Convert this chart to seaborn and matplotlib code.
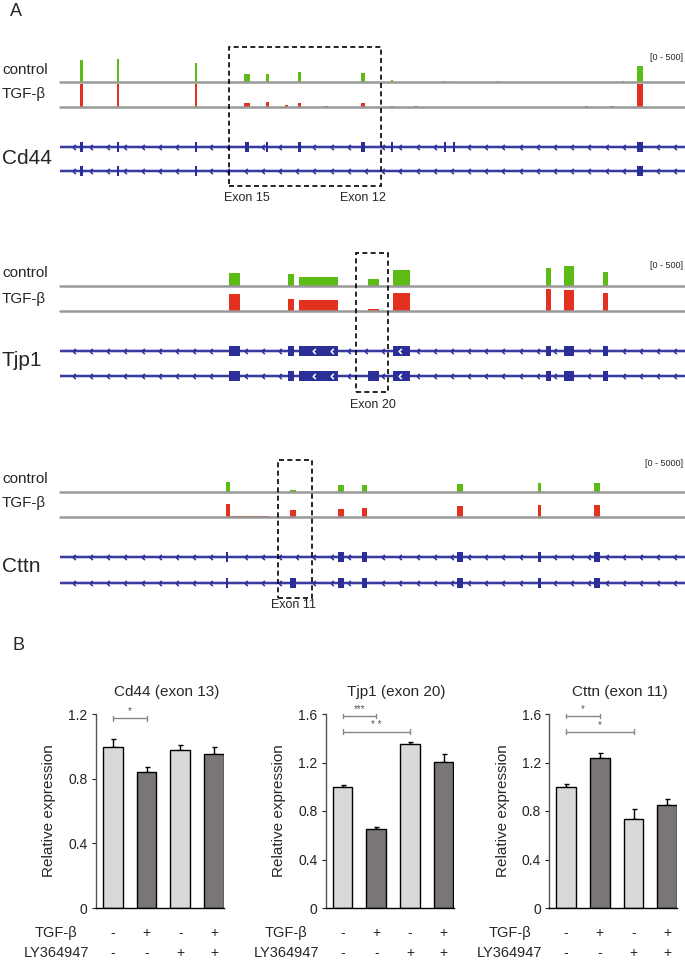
import numpy as np
import pandas as pd
import matplotlib
matplotlib.use("Agg")
import matplotlib.pyplot as plt
import seaborn as sns
from matplotlib.path import Path
from matplotlib.patches import Rectangle
from matplotlib.transforms import blended_transform_factory

# ------------------------------------------------------------------
# DATA  - panel A (genomic coordinate of each locus on a 0-1000 scale)
# ------------------------------------------------------------------
# Cd44
cd44_ctrl_start = [32.5, 91, 216, 295, 330, 381, 482, 529, 614, 628, 699, 899, 923]
cd44_ctrl_end = [36, 94.5, 219.5, 304, 335, 386, 488, 533, 617, 631, 702, 902, 932]
cd44_ctrl_val = [470, 500, 420, 170, 180, 220, 195, 40, 30, 30, 25, 25, 340]
cd44_tgf_start = [32.5, 91, 216, 295, 330, 360, 381, 423, 482, 529, 567, 840, 880, 923]
cd44_tgf_end = [36, 94.5, 219.5, 304, 335, 364, 386, 429, 488, 533, 572, 844, 886, 932]
cd44_tgf_val = [520, 520, 520, 80, 115, 35, 95, 30, 80, 25, 30, 25, 30, 520]
cd44_tx1_start = [32.5, 91, 216, 296, 330, 381.5, 482, 529.5, 614.5, 628.5, 923]
cd44_tx1_end = [36, 94.5, 219.5, 302, 333.5, 385, 488, 533, 618, 632, 932]
cd44_tx2_start = [32.5, 91, 216, 923]
cd44_tx2_end = [36, 94.5, 219.5, 932]
cd44_exon_labels = ["Exon 15", "Exon 12"]
cd44_exon_label_pos = [299, 485]
cd44_box = [270, 514]

# Tjp1
tjp1_ctrl_start = [271, 365, 382, 492, 533, 777, 806, 868]
tjp1_ctrl_end = [288, 374, 445, 510, 560, 786, 822, 876]
tjp1_ctrl_val = [290, 260, 200, 160, 350, 385, 430, 300]
tjp1_tgf_start = [271, 365, 382, 492, 533, 777, 806, 868]
tjp1_tgf_end = [288, 374, 445, 510, 560, 786, 822, 876]
tjp1_tgf_val = [360, 270, 240, 35, 390, 470, 450, 385]
tjp1_tx1_start = [271, 365, 382, 533, 777, 806, 868]
tjp1_tx1_end = [288, 374, 445, 560, 786, 822, 876]
tjp1_tx2_start = [271, 365, 382, 492, 533, 777, 806, 868]
tjp1_tx2_end = [288, 374, 445, 510, 560, 786, 822, 876]
tjp1_exon_labels = ["Exon 20"]
tjp1_exon_label_pos = [501]
tjp1_box = [474, 525]

# Cttn
cttn_ctrl_start = [265, 368, 445, 483, 635, 765, 854]
cttn_ctrl_end = [272, 378, 454, 491, 645, 770, 864]
cttn_ctrl_val = [2170, 520, 1460, 1460, 1830, 1960, 2040]
cttn_tgf_start = [265, 272, 368, 445, 483, 635, 765, 854]
cttn_tgf_end = [272, 335, 378, 454, 491, 645, 770, 864]
cttn_tgf_val = [2910, 200, 1460, 1830, 1960, 2390, 2540, 2540]
cttn_tx1_start = [265.5, 445, 483, 635, 765, 854]
cttn_tx1_end = [269.5, 454, 491, 645, 770, 864]
cttn_tx2_start = [265.5, 368, 445, 483, 635, 765, 854]
cttn_tx2_end = [269.5, 378, 454, 491, 645, 770, 864]
cttn_exon_labels = ["Exon 11"]
cttn_exon_label_pos = [373]
cttn_box = [348, 403]

track_names = ["control", "TGF-β"]

# ------------------------------------------------------------------
# DATA  - panel B
# ------------------------------------------------------------------
groups = ["ctl", "TGF", "LY", "TGF+LY"]
tgf_signs = ["-", "+", "-", "+"]
ly_signs = ["-", "-", "+", "+"]
row_labels = ["TGF-β", "LY364947"]

cd44_vals = [0.995, 0.84, 0.975, 0.95]
cd44_err = [0.053, 0.03, 0.035, 0.045]
tjp1_vals = [1.0, 0.655, 1.35, 1.207]
tjp1_err = [0.015, 0.013, 0.022, 0.06]
cttn_vals = [0.996, 1.24, 0.733, 0.851]
cttn_err = [0.025, 0.04, 0.085, 0.046]

cd44_sig = [(0, 1, 1.173, "*")]
tjp1_sig = [(0, 1, 1.584, "***"), (0, 2, 1.455, "* *")]
cttn_sig = [(0, 1, 1.584, "*"), (0, 2, 1.455, "*")]

# ------------------------------------------------------------------
sns.set_style("ticks")
plt.rcParams["font.family"] = ["Liberation Sans", "DejaVu Sans"]

W, H = 685, 969
fig = plt.figure(figsize=(W / 100, H / 100), dpi=100)


def box(x0, y0, x1, y1):
    return [x0 / W, 1 - y1 / H, (x1 - x0) / W, (y1 - y0) / H]


def fy(y):
    return 1 - y / H


GREEN = "#5cbb14"
RED = "#e2321f"
NAVY = "#2c2e98"
TRACK_GREY = "#999999"
LIGHT = "#d9d9db"
DARK = "#7a7579"

X0, X1 = 60, 685
TRACK_H = 23

loci = [
    dict(name="Cd44", scale=500, scale_label="[0 - 500]", scale_y=58,
         ctrl_base=82, tgf_base=107, tx_y=(147, 171), name_y=158,
         lab_y=(70, 94), box_y=(47, 186), exon_lab_y=198,
         ctrl=(cd44_ctrl_start, cd44_ctrl_end, cd44_ctrl_val),
         tgf=(cd44_tgf_start, cd44_tgf_end, cd44_tgf_val),
         tx1=(cd44_tx1_start, cd44_tx1_end), tx2=(cd44_tx2_start, cd44_tx2_end),
         exl=cd44_exon_labels, exp=cd44_exon_label_pos, dbox=cd44_box),
    dict(name="Tjp1", scale=500, scale_label="[0 - 500]", scale_y=265,
         ctrl_base=286, tgf_base=311, tx_y=(351, 376), name_y=360,
         lab_y=(273, 299), box_y=(253, 392), exon_lab_y=405,
         ctrl=(tjp1_ctrl_start, tjp1_ctrl_end, tjp1_ctrl_val),
         tgf=(tjp1_tgf_start, tjp1_tgf_end, tjp1_tgf_val),
         tx1=(tjp1_tx1_start, tjp1_tx1_end), tx2=(tjp1_tx2_start, tjp1_tx2_end),
         exl=tjp1_exon_labels, exp=tjp1_exon_label_pos, dbox=tjp1_box),
    dict(name="Cttn", scale=5000, scale_label="[0 - 5000]", scale_y=463,
         ctrl_base=492, tgf_base=517, tx_y=(557, 583), name_y=567,
         lab_y=(479, 503), box_y=(460, 598), exon_lab_y=605,
         ctrl=(cttn_ctrl_start, cttn_ctrl_end, cttn_ctrl_val),
         tgf=(cttn_tgf_start, cttn_tgf_end, cttn_tgf_val),
         tx1=(cttn_tx1_start, cttn_tx1_end), tx2=(cttn_tx2_start, cttn_tx2_end),
         exl=cttn_exon_labels, exp=cttn_exon_label_pos, dbox=cttn_box),
]

chev = Path([(0.5, 1.0), (-0.5, 0.0), (0.5, -1.0)],
            [Path.MOVETO, Path.LINETO, Path.LINETO])


def clean(ax):
    ax.set_xlim(0, 1000)
    ax.set_xticks([])
    ax.set_yticks([])
    for s in ax.spines.values():
        s.set_visible(False)
    ax.patch.set_alpha(0)


def coverage(ax, data, color, scale):
    starts, ends, vals = data
    starts = np.asarray(starts, float)
    ends = np.asarray(ends, float)
    ax.bar(starts, vals, width=ends - starts, align="edge", color=color,
           linewidth=0)
    ax.set_ylim(0, scale)
    ax.axhline(0, color=TRACK_GREY, lw=1.8, clip_on=False, zorder=5)
    clean(ax)


def transcript(ax, y, tx, exon_h):
    starts, ends = tx
    ax.axhline(y, color="#8c8ed0", lw=2.6, zorder=0.5, alpha=0.6)
    ax.axhline(y, color=NAVY, lw=1.3, zorder=1)
    for s, e in zip(starts, ends):
        ax.add_patch(Rectangle((s, y - exon_h / 2), e - s, exon_h,
                               facecolor=NAVY, edgecolor="none", zorder=2))
    for p in np.arange(22, 1000, 27.5):
        hit = [(s, e) for s, e in zip(starts, ends) if s - 5 <= p <= e + 5]
        if hit:
            s, e = hit[0]
            if e - s > 20 and s + 5 < p < e - 5:
                ax.plot(p, y, marker=chev, ms=3.8, mfc="none", mec="white",
                        mew=1.1, zorder=3)
            continue
        ax.plot(p, y, marker=chev, ms=3.8, mfc="none", mec=NAVY, mew=1.1,
                zorder=3)


fig.text(10 / W, fy(12), "A", fontsize=13, ha="left", va="center")
fig.text(12 / W, fy(646), "B", fontsize=13, ha="left", va="center")

for L in loci:
    ax_c = fig.add_axes(box(X0, L["ctrl_base"] - TRACK_H, X1, L["ctrl_base"]))
    coverage(ax_c, L["ctrl"], GREEN, L["scale"])
    ax_t = fig.add_axes(box(X0, L["tgf_base"] - TRACK_H, X1, L["tgf_base"]))
    coverage(ax_t, L["tgf"], RED, L["scale"])

    y1, y2 = L["tx_y"]
    d = y2 - y1
    ax_g = fig.add_axes(box(X0, y1 - d / 2, X1, y2 + d / 2))
    ax_g.set_ylim(-0.5, 1.5)
    clean(ax_g)
    transcript(ax_g, 1, L["tx1"], 9.5 / d)
    transcript(ax_g, 0, L["tx2"], 9.5 / d)

    fig.text(2 / W, fy(L["lab_y"][0]), track_names[0], fontsize=11,
             ha="left", va="center")
    fig.text(2 / W, fy(L["lab_y"][1]), track_names[1], fontsize=11,
             ha="left", va="center")
    fig.text(2 / W, fy(L["name_y"]), L["name"], fontsize=15,
             ha="left", va="center")
    fig.text(683 / W, fy(L["scale_y"]), L["scale_label"], fontsize=6.5,
             ha="right", va="center")

    tr = blended_transform_factory(ax_g.transData, fig.transFigure)
    bx0, bx1 = L["dbox"]
    by0, by1 = L["box_y"]
    fig.add_artist(Rectangle((bx0, fy(by1)), bx1 - bx0, (by1 - by0) / H,
                             transform=tr, fill=False, edgecolor="black",
                             lw=1.2, ls=(0, (3, 2)), zorder=10))
    for lab, pos in zip(L["exl"], L["exp"]):
        fig.text(pos, fy(L["exon_lab_y"]), lab, transform=tr, fontsize=9,
                 ha="center", va="center")

# ------------------------------------------------------------------
# Panel B
# ------------------------------------------------------------------
charts = [
    dict(title="Cd44 (exon 13)", vals=cd44_vals, err=cd44_err, sig=cd44_sig,
         ymax=1.2, ticks=[0, 0.4, 0.8, 1.2], left=96),
    dict(title="Tjp1 (exon 20)", vals=tjp1_vals, err=tjp1_err, sig=tjp1_sig,
         ymax=1.6, ticks=[0, 0.4, 0.8, 1.2, 1.6], left=325.7),
    dict(title="Cttn (exon 11)", vals=cttn_vals, err=cttn_err, sig=cttn_sig,
         ymax=1.6, ticks=[0, 0.4, 0.8, 1.2, 1.6], left=549.3),
]

for C in charts:
    ax = fig.add_axes(box(C["left"], 714, C["left"] + 128, 908))
    df = pd.DataFrame({"group": groups, "value": C["vals"]})
    sns.barplot(data=df, x="group", y="value", hue="group",
                palette=[LIGHT, DARK, LIGHT, DARK], legend=False,
                width=0.58, saturation=1, edgecolor="black", linewidth=1.0,
                errorbar=None, ax=ax, zorder=2)
    xs = np.arange(len(groups))
    ax.errorbar(xs, C["vals"], yerr=[np.zeros(len(xs)), C["err"]], fmt="none",
                ecolor="black", elinewidth=1.0, capsize=1.8, capthick=1.0,
                zorder=1)
    ax.set_xlim(-0.5, 3.3)
    ax.set_ylim(0, C["ymax"])
    ax.set_yticks(C["ticks"])
    ax.set_yticklabels([("%g" % t) for t in C["ticks"]], fontsize=10)
    ax.set_xticks([])
    ax.set_xlabel("")
    ax.set_ylabel("Relative expression", fontsize=11)
    ax.yaxis.set_label_coords(-0.31, 0.5)
    ax.tick_params(axis="y", length=3, width=0.8, pad=3, colors="#222222")
    for s in ["top", "right"]:
        ax.spines[s].set_visible(False)
    ax.spines["left"].set_color("#555555")
    ax.spines["left"].set_linewidth(1.0)
    ax.spines["bottom"].set_color("black")
    ax.spines["bottom"].set_linewidth(1.0)

    cap = C["ymax"] * 0.012
    for i, j, y, lab in C["sig"]:
        ax.plot([i, j], [y, y], color="#888888", lw=1.0, clip_on=False)
        for k in (i, j):
            ax.plot([k, k], [y - cap, y + cap], color="#888888", lw=1.0,
                    clip_on=False)
        ax.text((i + j) / 2, y + C["ymax"] * 0.01, lab, fontsize=7,
                color="#555555", ha="center", va="bottom", clip_on=False)

    trb = blended_transform_factory(ax.transData, fig.transFigure)
    tra = blended_transform_factory(ax.transAxes, fig.transFigure)
    ax.text(0.55, fy(692), C["title"], transform=tra, fontsize=11,
            ha="center", va="center")
    for x, s1, s2 in zip(xs, tgf_signs, ly_signs):
        ax.text(x, fy(933), s1, transform=trb, fontsize=10, ha="center",
                va="center")
        ax.text(x, fy(953), s2, transform=trb, fontsize=10, ha="center",
                va="center")
    ax.text(-0.31, fy(933), row_labels[0], transform=tra, fontsize=10.5,
            ha="center", va="center")
    ax.text(-0.31, fy(953), row_labels[1], transform=tra, fontsize=10.5,
            ha="center", va="center")

fig.savefig("out.png", dpi=100)
